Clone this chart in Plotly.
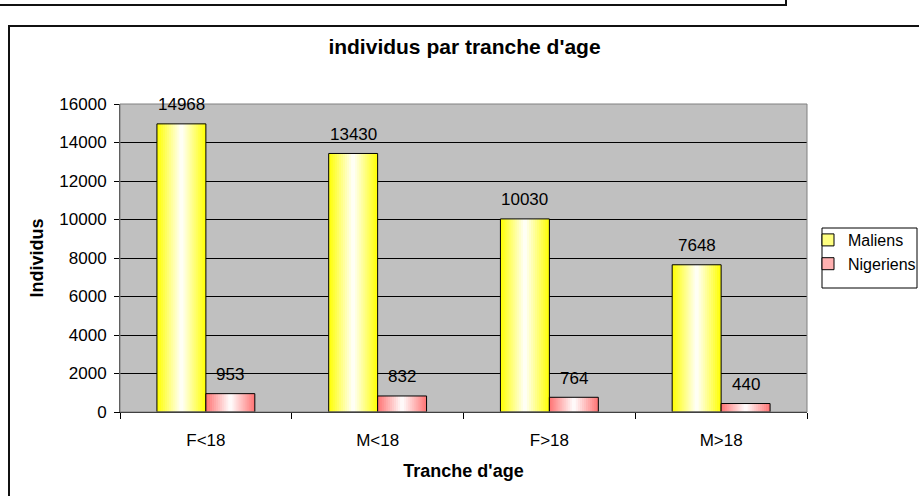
import plotly.graph_objects as go

# ---------------- data ----------------
categories = ["F<18", "M<18", "F>18", "M>18"]
maliens = [14968, 13430, 10030, 7648]
nigeriens = [953, 832, 764, 440]
series_names = ["Maliens", "Nigeriens"]
y_tick_values = [0, 2000, 4000, 6000, 8000, 10000, 12000, 14000, 16000]
y_tick_labels = ["0", "2000", "4000", "6000", "8000", "10000", "12000", "14000", "16000"]
chart_title = "individus par tranche d'age"
x_title = "Tranche d'age"
y_title = "Individus"

# ---------------- layout geometry ----------------
W, H = 919, 496
OFF = 0  # page body margin (removed via post_script)
# target plot area in screen pixels: x 120..807, y 104..412
L = 120 - OFF
T = 104 - OFF
R = W - (807 - OFF)
B = H - (412 - OFF)
PW = W - L - R
PH = H - T - B
FONT = "Liberation Sans, Arial, sans-serif"


def px(x):
    return (x - OFF - L) / PW


def py(y):
    return (T + PH - (y - OFF)) / PH


fig = go.Figure()

BAR_W = 0.285          # bar width in category units
CAT_PX = PW / len(categories)
N = 24                 # gradient slices per bar


def grad(base, t):
    f = abs(t - 0.5) * 2
    f = min(1.0, f)
    return "rgb(%d,%d,%d)" % tuple(round(255 + (c - 255) * f) for c in base)


series = [
    (maliens, (255, 255, 0), -BAR_W),
    (nigeriens, (255, 115, 115), 0.0),
]

for vals, base, off in series:
    sw = BAR_W / N
    for i in range(N):
        t = (i + 0.5) / N
        w = sw * 1.6 if i < N - 1 else sw
        fig.add_trace(go.Bar(
            x=categories, y=vals, offset=off + i * sw, width=w,
            marker=dict(color=grad(base, t), line=dict(width=0)),
            showlegend=False, hoverinfo="skip"))
    fig.add_trace(go.Bar(
        x=categories, y=vals, offset=off, width=BAR_W,
        marker=dict(color="rgba(0,0,0,0)", line=dict(color="black", width=1)),
        showlegend=False, hoverinfo="skip"))

# legend entries
legend_colors = ["#FFFF80", "#FFB0B0"]
for name, col in zip(series_names, legend_colors):
    fig.add_trace(go.Bar(
        x=categories, y=[None] * len(categories), name=name,
        marker=dict(color=col, line=dict(color="black", width=1))))

# data labels
annotations = []
for vals, _, off in series:
    for c, v in zip(categories, vals):
        annotations.append(dict(
            x=c, y=v, xref="x", yref="y", text=str(v), showarrow=False,
            xshift=(off + BAR_W / 2) * CAT_PX, yshift=19, yanchor="middle",
            font=dict(family=FONT, size=17, color="black")))

shapes = [
    # plot area border
    dict(type="rect", xref="paper", yref="paper", x0=0, x1=1, y0=0, y1=1,
         line=dict(color="#808080", width=1), layer="above"),
    # outer chart frame
    dict(type="rect", xref="paper", yref="paper",
         x0=px(9), x1=px(940), y0=py(520), y1=py(26),
         line=dict(color="#111111", width=2), layer="above"),
    # previous chart frame (top)
    dict(type="rect", xref="paper", yref="paper",
         x0=px(-20), x1=px(786), y0=py(5), y1=py(-30),
         line=dict(color="#111111", width=2), layer="above"),
    # legend box
    dict(type="rect", xref="paper", yref="paper",
         x0=px(822), x1=px(917), y0=py(288), y1=py(228),
         line=dict(color="black", width=1), fillcolor="white", layer="below"),
]

fig.update_layout(
    width=W, height=H,
    margin=dict(l=L, r=R, t=T, b=B, pad=0, autoexpand=False),
    paper_bgcolor="white", plot_bgcolor="#C0C0C0",
    barmode="overlay",
    font=dict(family=FONT, size=17, color="black"),
    title=dict(text="<b>" + chart_title + "</b>", x=px(464.5), xref="paper",
               xanchor="center", y=1 - (47 - OFF) / H, yref="container",
               yanchor="middle",
               font=dict(family=FONT, size=21, color="black")),
    showlegend=True,
    legend=dict(x=(808 - OFF) / W, xref="container",
                y=1 - (223 - OFF) / H, yref="container",
                xanchor="left", yanchor="top",
                bgcolor="rgba(0,0,0,0)", borderwidth=0,
                font=dict(family=FONT, size=16, color="black"),
                traceorder="normal", itemwidth=30),
    annotations=annotations,
    shapes=shapes,
)

fig.update_xaxes(
    type="category", range=[-0.5, len(categories) - 0.5],
    tickson="boundaries", ticks="outside", ticklen=6, tickcolor="black",
    showline=True, linecolor="black", linewidth=1, showgrid=False,
    tickfont=dict(family=FONT, size=17), ticklabelstandoff=13,
    title=dict(text="<b>" + x_title + "</b>", standoff=14,
               font=dict(family=FONT, size=18)),
)
fig.update_yaxes(
    range=[0, 16000], tickvals=y_tick_values, ticktext=y_tick_labels,
    ticks="outside", ticklen=5,
    tickcolor="black", showline=True, linecolor="#404040", linewidth=1,
    showgrid=True, gridcolor="black", gridwidth=1, zeroline=False,
    tickfont=dict(family=FONT, size=17), ticklabelstandoff=4,
    title=dict(text="<b>" + y_title + "</b>", standoff=11,
               font=dict(family=FONT, size=18)),
)

fig.write_html("out.html",
               config={"displayModeBar": False},
               post_script="document.body.style.margin='0';"
                           "document.body.style.overflow='hidden';")
